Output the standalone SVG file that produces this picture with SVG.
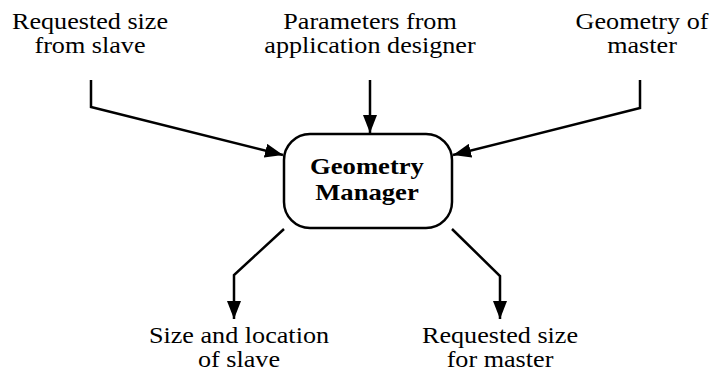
<svg xmlns="http://www.w3.org/2000/svg" width="712" height="373" viewBox="0 0 712 373">
<style>
text{font-family:"Liberation Serif","Times New Roman",serif;font-size:24px;fill:#000;text-anchor:middle}
.b{font-weight:bold;font-size:24px}
.c{fill:none;stroke:#000;stroke-width:2.5}
</style>
<defs>
<marker id="ah" markerUnits="userSpaceOnUse" markerWidth="20" markerHeight="14" refX="18" refY="7" orient="auto">
<path d="M0,0 L18,7 L0,14 Z" fill="#000"/>
</marker>
</defs>
<rect width="712" height="373" fill="#fff"/>
<g id="in1" transform="translate(90 0) scale(1.09 1)"><text x="0" y="29">Requested size</text><text x="0" y="53">from slave</text></g>
<g id="in2" transform="translate(370 0) scale(1.09 1)"><text x="0" y="29">Parameters from</text><text x="0" y="53">application designer</text></g>
<g id="in3" transform="translate(642 0) scale(1.09 1)"><text x="0" y="29">Geometry of</text><text x="0" y="53">master</text></g>
<g id="gm"><rect x="284" y="134" width="168" height="94" rx="26" class="c"/>
<g transform="translate(367 0) scale(1.11 1)"><text class="b" x="0" y="174">Geometry</text><text class="b" x="0" y="200">Manager</text></g></g>
<g id="out1" transform="translate(239 0) scale(1.09 1)"><text x="0" y="343">Size and location</text><text x="0" y="367">of slave</text></g>
<g id="out2" transform="translate(500 0) scale(1.09 1)"><text x="0" y="343">Requested size</text><text x="0" y="367">for master</text></g>
<g id="connectors">
<polyline class="c" points="91,80 91,107 283,155" marker-end="url(#ah)"/>
<polyline class="c" points="370,80 370,133" marker-end="url(#ah)"/>
<polyline class="c" points="640,80 640,108 453,155" marker-end="url(#ah)"/>
<polyline class="c" points="284,229 234,275 234,319" marker-end="url(#ah)"/>
<polyline class="c" points="452,229 500,276 500,319" marker-end="url(#ah)"/>
</g>
</svg>
